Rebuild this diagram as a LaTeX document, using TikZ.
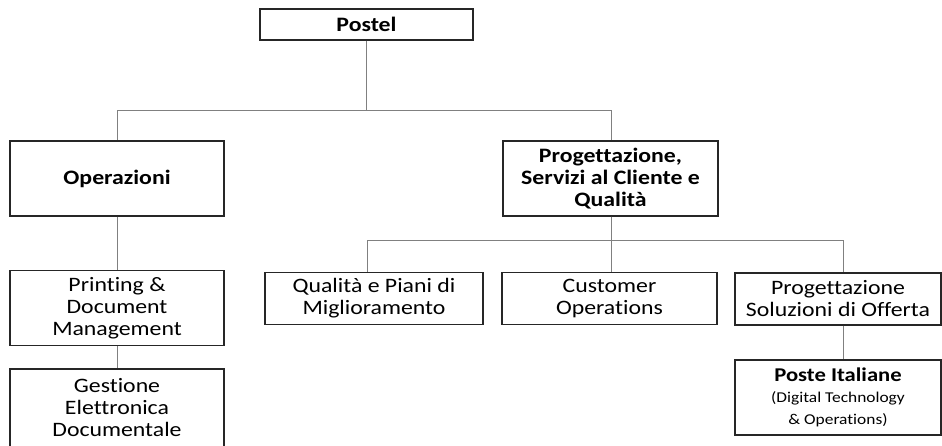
\documentclass[tikz,border=0pt]{standalone}
\usepackage{fontspec}
\setmainfont{Carlito}[FakeStretch=1.16, Ligatures=NoCommon]
\usepackage{xcolor}
\usetikzlibrary{positioning}

\begin{document}
\begin{tikzpicture}[x=1pt, y=-1pt,
    box/.style={draw=black!85, line width=1.3pt, fill=white, align=center,
        inner sep=0pt, font=\fontsize{20.5}{22}\selectfont},
    head/.style={box, font=\fontsize{20.5}{22}\selectfont\bfseries},
    link/.style={draw=black!50, line width=1pt}]
                \useasboundingbox (0, 0) rectangle (942, 445);
                \clip (0, 0) rectangle (942, 445);

                \node[head, minimum width=213, minimum height=31] (postel) at (366.5, 24.5) {Postel};
                \node[head, minimum width=214, minimum height=75] (oper) at (117, 178.5) {Operazioni};
                \node[head, minimum width=215, minimum height=75] (prog) at (610.5, 178.5) {Progettazione,\\Servizi al Cliente e\\Qualità};
                \node[box, minimum width=214, minimum height=75] (print) at (117, 308) {Printing \&\\Document\\Management};
                \node[box, minimum width=214, minimum height=78] (gest) at (117, 408) {Gestione\\Elettronica\\Documentale};
                \node[box, minimum width=218, minimum height=52] (qual) at (374, 298.5) {Qualità e Piani di\\Miglioramento};
                \node[box, minimum width=215, minimum height=52] (cust) at (609.5, 298.5) {Customer\\Operations};
                \node[box, minimum width=206, minimum height=52] (sol) at (838, 299) {Progettazione\\Soluzioni di Offerta};
                \node[box, minimum width=206, minimum height=75] (poste) at (838, 397.5) {{\fontsize{19.5}{23}\selectfont\bfseries Poste Italiane}\\[-1pt]{\fontsize{15}{21}\selectfont (Digital Technology}\\{\fontsize{15}{21}\selectfont \& Operations)}};

                \draw[link] (postel.south) -- ++(0, 70) -| (oper.north);
                \draw[link] (postel.south) -- ++(0, 70) -| ([xshift=1pt]prog.north);
                \draw[link] ([xshift=1pt]prog.south) -- ([xshift=1pt]prog.south |- cust.north);
                \draw[link] ([xshift=1pt]prog.south) -- ++(0, 24) -| ([xshift=-7pt]qual.north);
                \draw[link] ([xshift=1pt]prog.south) -- ++(0, 24) -| ([xshift=5pt]sol.north);
                \draw[link] (oper.south) -- (print.north);
                \draw[link] (print.south) -- (gest.north);
                \draw[link] ([xshift=5pt]sol.south) -- ([xshift=5pt]poste.north);
            \end{tikzpicture}
\end{document}
